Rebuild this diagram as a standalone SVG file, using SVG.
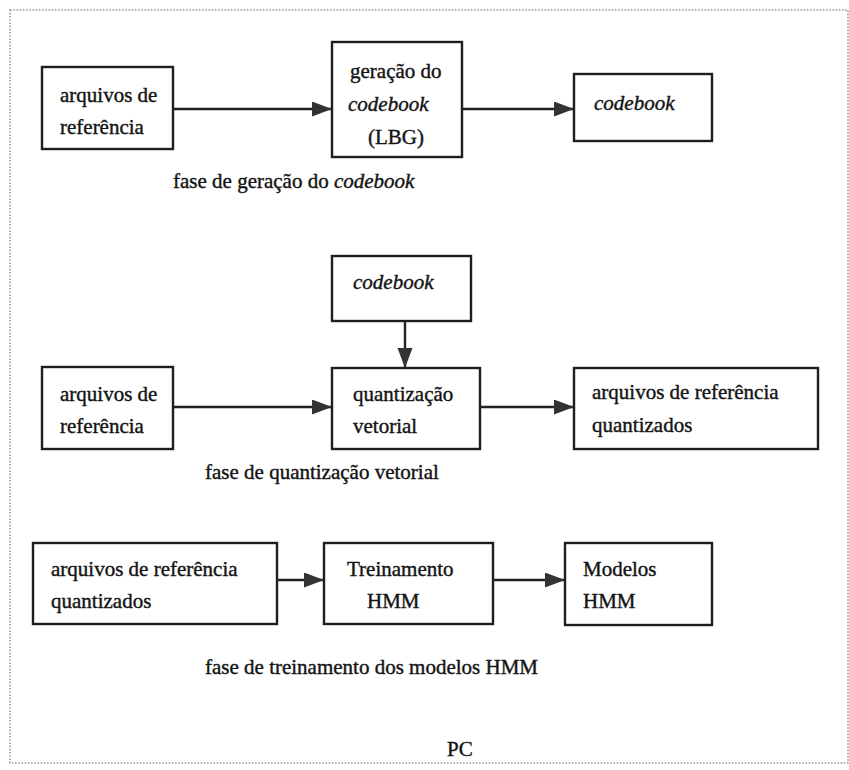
<svg xmlns="http://www.w3.org/2000/svg" width="849" height="770" viewBox="0 0 849 770">
  <style>
    .box { fill: #ffffff; stroke: #1e1e1e; stroke-width: 2.4; }
    .lbl { font-family: 'Liberation Serif', 'DejaVu Serif', serif; font-size: 21px; fill: #141414; stroke: #141414; stroke-width: 0.4; }
    .it { font-style: italic; }
    .edge { stroke: #222222; stroke-width: 2.4; fill: none; marker-end: url(#arrow); }
    .frame { fill: none; stroke: #9a9a9a; stroke-width: 1.6; stroke-dasharray: 1.6 1.6; }
  </style>
  <defs>
    <marker id="arrow" markerUnits="userSpaceOnUse" markerWidth="20" markerHeight="16" refX="20" refY="7.5" orient="auto">
      <path d="M0,0 L20,7.5 L0,15 z" fill="#333333"/>
    </marker>
  </defs>

  <rect x="0" y="0" width="849" height="770" fill="#ffffff"/>
  <!-- dotted frame of the PC -->
  <rect class="frame" x="10" y="10" width="838" height="753"/>

  <!-- phase 1: codebook generation -->
  <g id="n1">
    <rect class="box" x="42" y="67" width="131" height="82"/>
    <text class="lbl" x="60" y="102">arquivos de</text>
    <text class="lbl" x="60" y="134">referência</text>
  </g>
  <g id="n2">
    <rect class="box" x="332" y="42" width="130" height="115"/>
    <text class="lbl" x="350" y="78">geração do</text>
    <text class="lbl it" x="348" y="111">codebook</text>
    <text class="lbl" x="368" y="144">(LBG)</text>
  </g>
  <g id="n3">
    <rect class="box" x="574" y="74" width="138" height="67"/>
    <text class="lbl it" x="594" y="110">codebook</text>
  </g>
  <text class="lbl" x="173" y="188">fase de geração do <tspan class="it">codebook</tspan></text>

  <!-- phase 2: vector quantization -->
  <g id="n4">
    <rect class="box" x="332" y="256" width="139" height="65"/>
    <text class="lbl it" x="353" y="289">codebook</text>
  </g>
  <g id="n5">
    <rect class="box" x="42" y="367" width="131" height="82"/>
    <text class="lbl" x="60" y="401">arquivos de</text>
    <text class="lbl" x="60" y="433">referência</text>
  </g>
  <g id="n6">
    <rect class="box" x="332" y="368" width="148" height="81"/>
    <text class="lbl" x="353" y="401">quantização</text>
    <text class="lbl" x="353" y="433">vetorial</text>
  </g>
  <g id="n7">
    <rect class="box" x="574" y="368" width="244" height="81"/>
    <text class="lbl" x="592" y="399">arquivos de referência</text>
    <text class="lbl" x="592" y="432">quantizados</text>
  </g>
  <text class="lbl" x="205" y="479">fase de quantização vetorial</text>

  <!-- phase 3: HMM training -->
  <g id="n8">
    <rect class="box" x="33" y="543" width="244" height="81"/>
    <text class="lbl" x="51" y="576">arquivos de referência</text>
    <text class="lbl" x="51" y="608">quantizados</text>
  </g>
  <g id="n9">
    <rect class="box" x="324" y="543" width="169" height="81"/>
    <text class="lbl" x="347" y="576">Treinamento</text>
    <text class="lbl" x="367" y="608">HMM</text>
  </g>
  <g id="n10">
    <rect class="box" x="565" y="543" width="147" height="82"/>
    <text class="lbl" x="583" y="576">Modelos</text>
    <text class="lbl" x="583" y="608">HMM</text>
  </g>
  <text class="lbl" x="205" y="674">fase de treinamento dos modelos HMM</text>

  <text class="lbl" x="447" y="756">PC</text>

  <!-- connectors -->
  <g id="edges">
    <line class="edge" x1="173" y1="109" x2="332" y2="109"/>
    <line class="edge" x1="462" y1="109" x2="574" y2="109"/>
    <line class="edge" x1="405" y1="321" x2="405" y2="368"/>
    <line class="edge" x1="173" y1="407" x2="332" y2="407"/>
    <line class="edge" x1="480" y1="407" x2="574" y2="407"/>
    <line class="edge" x1="277" y1="580" x2="324" y2="580"/>
    <line class="edge" x1="493" y1="580" x2="565" y2="580"/>
  </g>
</svg>
